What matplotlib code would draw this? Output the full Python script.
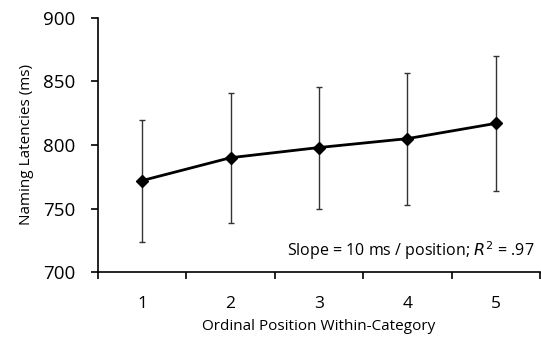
import matplotlib
matplotlib.use("Agg")
import matplotlib.pyplot as plt

positions = [1, 2, 3, 4, 5]
latencies = [772, 790, 798, 805, 817]
errors = [48, 51, 48, 52, 53]
y_ticks = [700, 750, 800, 850, 900]

plt.rcParams['font.family'] = ['Open Sans', 'DejaVu Sans']

fig = plt.figure(figsize=(5.41, 3.44), dpi=100)
ax = fig.add_axes([0.181, 0.209, 0.817, 0.739])

ax.errorbar(positions, latencies, yerr=errors, color='black', linewidth=2,
            marker='D', markersize=6, ecolor='#333333', elinewidth=1,
            capsize=2.5, capthick=1)

ax.set_xlim(0.5, 5.5)
ax.set_ylim(700, 900)
ax.set_yticks(y_ticks)
ax.set_xticks([p - 0.5 for p in positions] + [5.5])
ax.set_xticklabels([])
ax.set_xticks(positions, minor=True)
ax.set_xticklabels([str(p) for p in positions], minor=True)
ax.tick_params(axis='x', which='minor', length=0, labelsize=12.5, pad=17)
ax.tick_params(axis='x', which='major', length=5, width=1.2, direction='out')
ax.tick_params(axis='y', length=5, width=1.2, direction='out', labelsize=13.5, pad=11)

for side in ['top', 'right']:
    ax.spines[side].set_visible(False)
for side in ['left', 'bottom']:
    ax.spines[side].set_linewidth(1.2)

ax.set_ylabel('Naming Latencies (ms)', fontsize=11, labelpad=7)
ax.set_xlabel('Ordinal Position Within-Category', fontsize=11, labelpad=5)

ax.text(5.44, 713, 'Slope = 10 ms / position; $R^2$ = .97',
        ha='right', va='baseline', fontsize=11.5)

fig.savefig('out.png', dpi=100)
